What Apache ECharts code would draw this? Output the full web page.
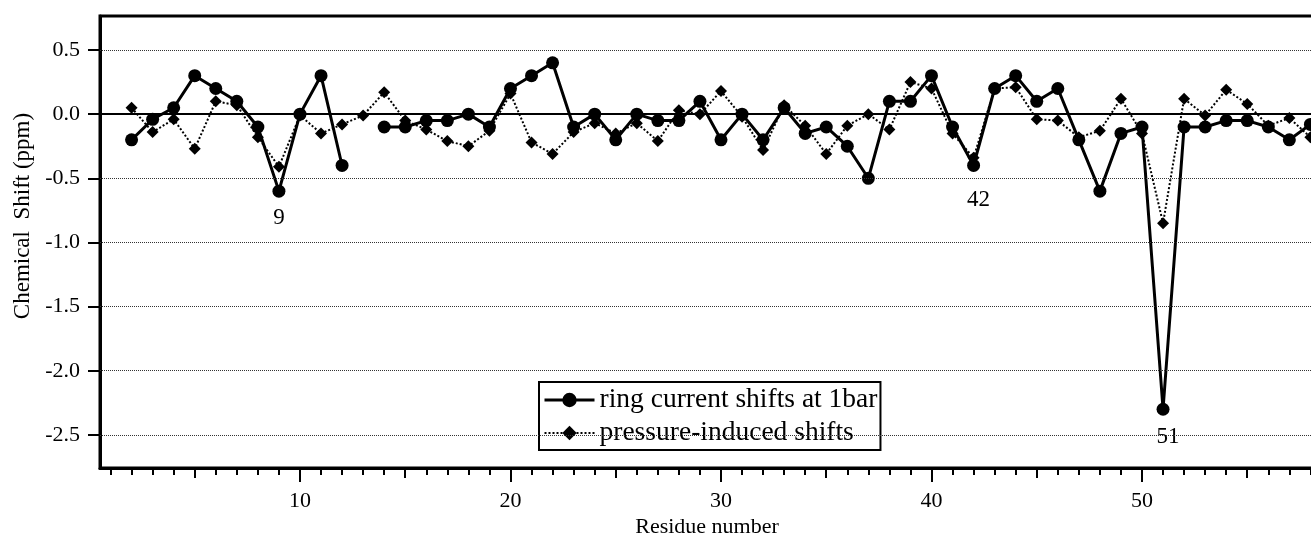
<!DOCTYPE html>
<html>
<head>
<meta charset="utf-8">
<script src="https://cdn.jsdelivr.net/npm/echarts@6/dist/echarts.min.js"></script>
<style>
  html, body { margin: 0; padding: 0; background: #fff; }
  #chart { width: 1311px; height: 538px; }
</style>
</head>
<body>
<div id="chart"></div>
<script>
// residue numbers shown in the plot
var residues = [2, 3, 4, 5, 6, 7, 8, 9, 10, 11, 12, 13, 14, 15, 16, 17, 18, 19, 20,
  21, 22, 23, 24, 25, 26, 27, 28, 29, 30, 31, 32, 33, 34, 35, 36, 37, 38, 39, 40,
  41, 42, 43, 44, 45, 46, 47, 48, 49, 50, 51, 52, 53, 54, 55, 56, 57, 58];

// ring current shifts at 1bar (ppm), residue 13 missing
var ringShift = [-0.2, -0.04, 0.05, 0.3, 0.2, 0.1, -0.1, -0.6, 0, 0.3, -0.4, null, -0.1, -0.1, -0.05, -0.05, 0, -0.1, 0.2,
  0.3, 0.4, -0.1, 0, -0.2, 0, -0.05, -0.05, 0.1, -0.2, 0, -0.2, 0.05, -0.15, -0.1, -0.25, -0.5, 0.1, 0.1, 0.3,
  -0.1, -0.4, 0.2, 0.3, 0.1, 0.2, -0.2, -0.6, -0.15, -0.1, -2.3, -0.1, -0.1, -0.05, -0.05, -0.1, -0.2, -0.08];

// pressure-induced shifts (ppm)
var pressureShift = [0.05, -0.14, -0.04, -0.27, 0.1, 0.07, -0.18, -0.41, -0.01, -0.15, -0.08, -0.01, 0.17, -0.05, -0.12, -0.21, -0.25, -0.13, 0.16,
  -0.22, -0.31, -0.14, -0.07, -0.15, -0.07, -0.21, 0.03, 0, 0.18, -0.02, -0.28, 0.07, -0.09, -0.31, -0.09, 0, -0.12, 0.25, 0.2,
  -0.15, -0.34, 0.2, 0.21, -0.04, -0.05, -0.18, -0.13, 0.12, -0.15, -0.85, 0.12, -0.01, 0.19, 0.08, -0.09, -0.03, -0.18];

var labelled = [9, 42, 51];

var yTicks = [-2.5, -2, -1.5, -1, -0.5, 0, 0.5];
var gridLines = [-2.5, -2, -1.5, -1, -0.5, 0.5];
var xMajor = [10, 20, 30, 40, 50, 60];
var xMid = [5, 15, 25, 35, 45, 55];
var xMinor = [1, 2, 3, 4, 6, 7, 8, 9, 11, 12, 13, 14, 16, 17, 18, 19, 21, 22, 23, 24, 26, 27, 28, 29,
  31, 32, 33, 34, 36, 37, 38, 39, 41, 42, 43, 44, 46, 47, 48, 49, 51, 52, 53, 54, 56, 57, 58, 59];

var serif = '"Liberation Serif", "DejaVu Serif", serif';

// label tweaks for the annotated residues
var labelOpt = {
  9:  { distance: 9,  offset: [0, 0] },
  42: { distance: 16, offset: [5, 0] },
  51: { distance: 10, offset: [5, 0] }
};

var ringData = residues.map(function (r, i) {
  var v = ringShift[i];
  if (v === null) return [r, '-'];
  if (labelled.indexOf(r) >= 0) {
    return {
      value: [r, v],
      label: {
        show: true,
        position: 'bottom',
        distance: labelOpt[r].distance,
        offset: labelOpt[r].offset,
        formatter: String(r),
        fontFamily: serif,
        fontSize: 23,
        color: '#000',
        backgroundColor: '#fff',
        padding: [0, 3]
      }
    };
  }
  return [r, v];
});

var pressureData = residues.map(function (r, i) { return [r, pressureShift[i]]; });

function xAxisOf(ticks, len, showLine, labels) {
  return {
    type: 'value',
    min: 0.5,
    max: 60,
    position: 'bottom',
    axisLine: { show: showLine, onZero: false, lineStyle: { color: '#000', width: 3 } },
    axisTick: { show: true, customValues: ticks, length: len, lineStyle: { color: '#000', width: 2 } },
    axisLabel: labels ? {
      customValues: ticks,
      fontFamily: serif,
      fontSize: 22,
      color: '#000',
      margin: 22
    } : { show: false },
    splitLine: { show: false }
  };
}

var chart = echarts.init(document.getElementById('chart'));
var option = {
  animation: false,
  backgroundColor: '#fff',
  grid: {
    left: 100,
    top: 16,
    width: 1252.5,
    height: 452,
    outerBoundsMode: 'none',
    containLabel: false,
    show: true,
    borderColor: '#000',
    borderWidth: 3
  },
  legend: {
    orient: 'vertical',
    left: 539,
    top: 382,
    itemWidth: 50,
    itemHeight: 18,
    itemGap: 5,
    padding: [4, 3, 3, 4],
    borderColor: '#000',
    borderWidth: 2,
    backgroundColor: '#fff',
    textStyle: { fontFamily: serif, fontSize: 27.5, color: '#000' },
    data: [
      { name: 'ring current shifts at 1bar', lineStyle: { width: 3, color: '#000' } },
      { name: 'pressure-induced shifts', lineStyle: { width: 2, color: '#000', type: 'dotted' } }
    ]
  },
  xAxis: [
    xAxisOf(xMajor, 14, true, true),
    xAxisOf(xMid, 10, false, false),
    xAxisOf(xMinor, 7, false, false)
  ],
  yAxis: {
    type: 'value',
    min: -2.758,
    max: 0.765,
    axisLine: { show: true, onZero: false, lineStyle: { color: '#000', width: 3 } },
    axisTick: { show: true, customValues: yTicks, length: 12, lineStyle: { color: '#000', width: 2 } },
    axisLabel: {
      customValues: yTicks,
      formatter: function (v) { return v.toFixed(1); },
      fontFamily: serif,
      fontSize: 22,
      color: '#000',
      margin: 20
    },
    splitLine: { show: false }
  },
  graphic: [
    {
      type: 'text',
      x: 23,
      y: 216,
      rotation: Math.PI / 2,
      style: {
        text: 'Chemical  Shift (ppm)',
        font: '23px "Liberation Serif"',
        fill: '#000',
        align: 'center',
        verticalAlign: 'middle'
      }
    },
    {
      type: 'text',
      x: 707,
      y: 527,
      style: {
        text: 'Residue number',
        font: '22px "Liberation Serif"',
        fill: '#000',
        align: 'center',
        verticalAlign: 'middle'
      }
    }
  ],
  series: [
    {
      name: 'pressure-induced shifts',
      type: 'line',
      xAxisIndex: 0,
      data: pressureData,
      symbol: 'diamond',
      symbolSize: 12,
      itemStyle: { color: '#000' },
      lineStyle: { color: '#000', width: 2, type: 'dotted' },
      z: 2,
      markLine: {
        silent: true,
        symbol: 'none',
        label: { show: false },
        lineStyle: { color: '#333', width: 1, type: 'dotted' },
        data: gridLines.map(function (v) { return { yAxis: v }; }).concat([
          { yAxis: 0, lineStyle: { color: '#000', width: 2, type: 'solid' } }
        ])
      }
    },
    {
      name: 'ring current shifts at 1bar',
      type: 'line',
      xAxisIndex: 0,
      data: ringData,
      connectNulls: false,
      symbol: 'circle',
      symbolSize: 13,
      itemStyle: { color: '#000' },
      lineStyle: { color: '#000', width: 3 },
      z: 3
    }
  ]
};
chart.setOption(option);
</script>
</body>
</html>
